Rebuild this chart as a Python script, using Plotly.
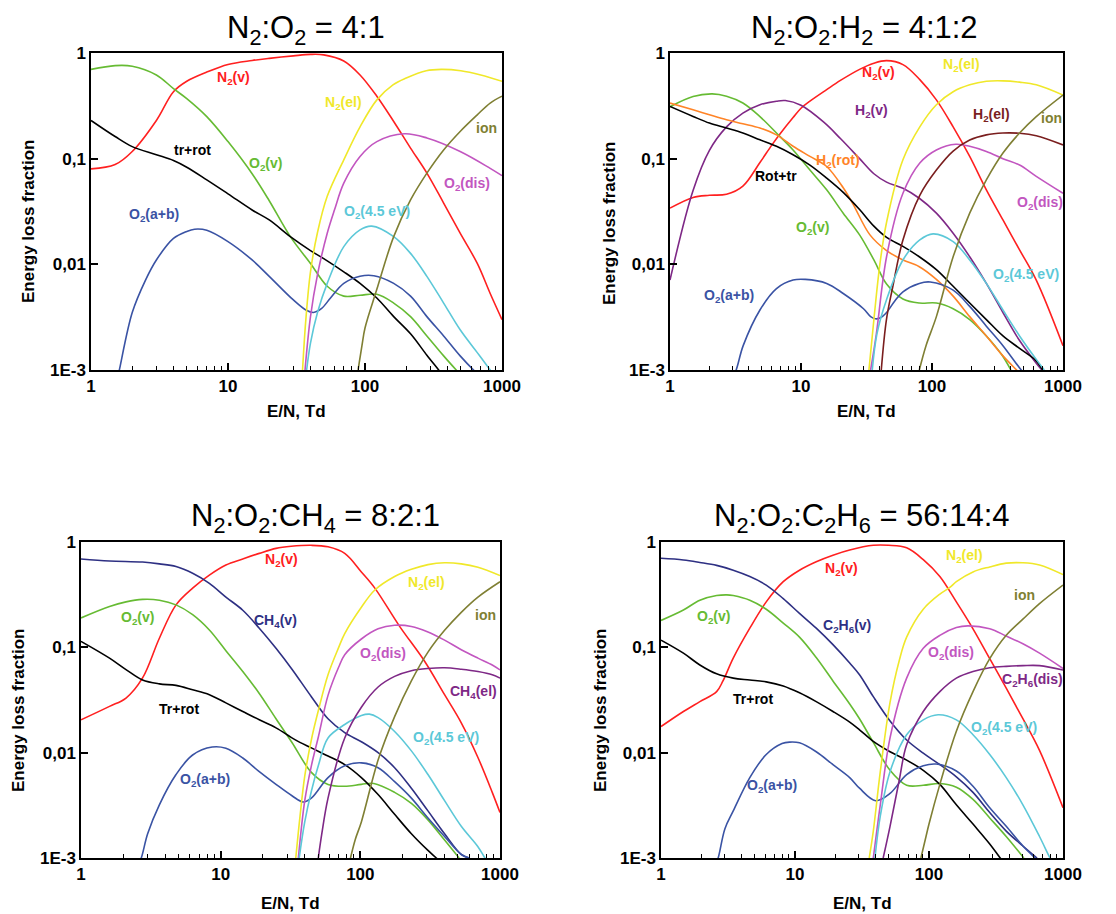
import math
import plotly.graph_objects as go

# ---------------- colours ----------------
RED = '#FF2020'
GREEN = '#66BB33'
BLACK = '#000000'
BLUE = '#3A53A4'
YELLOW = '#F0E82A'
MAGENTA = '#C256C0'
CYAN = '#5CC8D8'
OLIVE = '#7F7F33'
PURPLE = '#7E2886'
ORANGE = '#FF8427'
MAROON = '#7A1E1E'
NAVY = '#2E3083'

# ---------------- axis ticks ----------------
X_TICKS = [1, 10, 100, 1000]
X_TICKTEXT = ['1', '10', '100', '1000']
Y_TICKS = [0.001, 0.01, 0.1, 1]
Y_TICKTEXT = ['1E-3', '0,01', '0,1', '1']

# ================= Panel A : N2:O2 = 4:1 =================
A_N2V_X = [1, 1.5, 2, 3, 4, 5, 7, 10, 15, 20, 30, 40, 50, 70, 92, 122, 162, 215, 283, 375, 495, 660, 820, 1000]
A_N2V_Y = [0.080, 0.088, 0.117, 0.23, 0.43, 0.54, 0.66, 0.78, 0.85, 0.89, 0.94, 0.97, 0.96, 0.84, 0.62, 0.39, 0.225, 0.126, 0.073, 0.038, 0.0197, 0.0102, 0.0053, 0.003]
A_O2V_X = [1, 1.5, 2, 3, 4, 5, 7, 10, 15, 20, 28.5, 40, 53, 70, 92, 122, 162, 215, 283, 375, 480]
A_O2V_Y = [0.70, 0.76, 0.75, 0.62, 0.46, 0.37, 0.25, 0.145, 0.072, 0.04, 0.0183, 0.0102, 0.0062, 0.005, 0.0051, 0.0052, 0.0043, 0.0032, 0.0021, 0.00136, 0.00095]
A_TR_X = [1, 1.5, 2, 3, 4, 5, 7, 10, 15, 20, 28.5, 40, 53, 70, 92, 122, 162, 215, 283, 345, 380]
A_TR_Y = [0.23, 0.162, 0.13, 0.109, 0.096, 0.083, 0.063, 0.0465, 0.0327, 0.0263, 0.0183, 0.0135, 0.0108, 0.0085, 0.0066, 0.0048, 0.0032, 0.0022, 0.00138, 0.001, 0.00085]
A_AB_X = [1.55, 1.61, 2, 2.5, 3, 4, 5, 5.7, 7, 10, 15, 20, 30, 37, 42, 48, 56, 70, 92, 116, 162, 215, 283, 375, 495, 620, 680]
A_AB_Y = [0.0008, 0.001, 0.0035, 0.0071, 0.011, 0.0176, 0.0205, 0.0215, 0.021, 0.0164, 0.011, 0.0077, 0.0046, 0.0037, 0.0035, 0.0038, 0.0048, 0.0066, 0.0077, 0.0078, 0.0066, 0.005, 0.0032, 0.0021, 0.00136, 0.001, 0.0009]
A_N2EL_X = [35, 37, 40, 45, 53, 70, 92, 122, 160, 200, 280, 360, 500, 700, 1000]
A_N2EL_Y = [0.001, 0.003, 0.0085, 0.02, 0.044, 0.0975, 0.2, 0.36, 0.5, 0.58, 0.68, 0.70, 0.68, 0.62, 0.54]
A_DIS_X = [36.5, 40, 45, 53, 60, 70, 92, 122, 194, 283, 495, 820, 1000]
A_DIS_Y = [0.001, 0.0032, 0.008, 0.0197, 0.033, 0.0586, 0.105, 0.145, 0.172, 0.157, 0.117, 0.081, 0.069]
A_45_X = [37.5, 40, 45, 53, 70, 92, 112, 162, 215, 283, 375, 495, 660, 820, 900]
A_45_Y = [0.001, 0.0018, 0.0035, 0.0066, 0.0147, 0.0212, 0.023, 0.0183, 0.0127, 0.0077, 0.0043, 0.0024, 0.00146, 0.001, 0.00085]
A_ION_X = [89, 95, 100, 122, 162, 215, 283, 375, 495, 660, 820, 1000]
A_ION_Y = [0.001, 0.0017, 0.0025, 0.0058, 0.0183, 0.0407, 0.073, 0.121, 0.181, 0.26, 0.336, 0.39]

# ================= Panel B : N2:O2:H2 = 4:1:2 =================
B_N2V_X = [1, 1.5, 2, 2.7, 3.6, 4.86, 6, 7, 8.7, 10, 11.7, 15.7, 20, 28, 36, 45, 60, 80.7, 108, 145, 194, 260, 348, 466, 625, 1000]
B_N2V_Y = [0.034, 0.043, 0.045, 0.046, 0.055, 0.092, 0.135, 0.175, 0.245, 0.30, 0.35, 0.45, 0.55, 0.70, 0.80, 0.846, 0.776, 0.56, 0.36, 0.2, 0.105, 0.0507, 0.0263, 0.0137, 0.0071, 0.0017]
B_O2V_X = [1, 1.5, 2.1, 2.7, 3.6, 4.86, 6.5, 8.7, 11.7, 15.7, 21, 28, 36, 45, 60, 80, 108, 145, 194, 260, 340, 400]
B_O2V_Y = [0.31, 0.388, 0.41, 0.39, 0.336, 0.25, 0.175, 0.121, 0.078, 0.0507, 0.0305, 0.019, 0.011, 0.0065, 0.0047, 0.0043, 0.0043, 0.0038, 0.003, 0.0021, 0.0014, 0.001]
B_TR_X = [1, 1.5, 2, 2.7, 3.6, 4.86, 6.5, 8.7, 11.7, 15.7, 21, 28, 36, 45, 60, 80, 108, 145, 194, 260, 348, 466, 625, 700, 750]
B_TR_Y = [0.312, 0.251, 0.217, 0.195, 0.175, 0.151, 0.131, 0.109, 0.087, 0.0655, 0.048, 0.033, 0.023, 0.018, 0.0148, 0.0118, 0.0089, 0.0062, 0.0043, 0.003, 0.0021, 0.0016, 0.00122, 0.001, 0.0009]
B_ROT_X = [1, 1.5, 2, 2.7, 3.6, 4.86, 6.5, 8.7, 11.7, 15.7, 21, 25, 33.6, 45, 60, 80, 108, 145, 194, 260, 348, 460, 500]
B_ROT_Y = [0.336, 0.29, 0.26, 0.233, 0.214, 0.195, 0.168, 0.131, 0.105, 0.0843, 0.053, 0.037, 0.019, 0.0135, 0.011, 0.0095, 0.0072, 0.005, 0.0032, 0.0021, 0.00136, 0.00095, 0.00085]
B_HV_X = [1, 1.5, 2, 2.7, 3.6, 4.86, 6.5, 7.6, 10, 15, 20, 28, 36, 45, 60, 80, 108, 145, 194, 260, 348, 466, 625, 690]
B_HV_Y = [0.0071, 0.05, 0.12, 0.2, 0.27, 0.324, 0.35, 0.355, 0.32, 0.22, 0.155, 0.1, 0.072, 0.06, 0.0525, 0.0422, 0.0305, 0.0197, 0.0118, 0.0066, 0.0035, 0.0019, 0.00116, 0.001]
B_AB_X = [3, 3.2, 3.62, 4.86, 6.5, 8.7, 10.8, 15.7, 21, 30, 34, 37, 40, 45, 52, 60, 80, 97, 145, 194, 260, 348, 480, 520]
B_AB_Y = [0.00085, 0.001, 0.0017, 0.0037, 0.0059, 0.0071, 0.0072, 0.0066, 0.0053, 0.0038, 0.0032, 0.00305, 0.0031, 0.0035, 0.0045, 0.0055, 0.0066, 0.0068, 0.0057, 0.004, 0.0026, 0.0017, 0.001, 0.0009]
B_N2EL_X = [33, 36, 40, 45, 60, 80.7, 108, 145, 194, 260, 348, 466, 625, 1000]
B_N2EL_Y = [0.001, 0.003, 0.01, 0.025, 0.0975, 0.2, 0.324, 0.43, 0.5, 0.54, 0.545, 0.53, 0.5, 0.40]
B_DIS_X = [34, 37.6, 45, 60, 80.7, 108, 152, 194, 260, 348, 466, 625, 1000]
B_DIS_Y = [0.001, 0.0022, 0.0118, 0.047, 0.091, 0.121, 0.137, 0.131, 0.117, 0.1, 0.087, 0.068, 0.047]
B_HEL_X = [41, 44.9, 50, 60, 80.7, 108, 145, 194, 260, 348, 466, 625, 1000]
B_HEL_Y = [0.001, 0.003, 0.006, 0.017, 0.045, 0.078, 0.118, 0.15, 0.168, 0.175, 0.174, 0.165, 0.135]
B_45_X = [35, 38, 44.9, 60, 80.7, 102, 145, 194, 260, 348, 466, 625, 720]
B_45_Y = [0.001, 0.0022, 0.0046, 0.011, 0.017, 0.0194, 0.0164, 0.011, 0.0066, 0.0037, 0.0021, 0.00126, 0.001]
B_ION_X = [80, 90, 108, 145, 194, 260, 348, 466, 625, 1000]
B_ION_Y = [0.001, 0.0017, 0.0032, 0.0118, 0.0305, 0.063, 0.113, 0.175, 0.25, 0.40]

# ================= Panel C : N2:O2:CH4 = 8:2:1 =================
C_N2V_X = [1, 1.6, 2.1, 2.76, 3.64, 4.79, 6.3, 8.3, 10.9, 14.4, 18.9, 24.9, 32, 44.6, 58.7, 77.3, 101.7, 127, 190, 290, 401, 528, 695, 880, 1000]
C_N2V_Y = [0.0205, 0.0275, 0.033, 0.0512, 0.122, 0.253, 0.365, 0.485, 0.605, 0.69, 0.78, 0.87, 0.91, 0.93, 0.90, 0.78, 0.52, 0.365, 0.16, 0.073, 0.0355, 0.0192, 0.009, 0.0042, 0.0027]
C_CH4V_X = [1, 1.6, 2.76, 3.64, 4.79, 6.3, 8.3, 10.9, 14.4, 18.9, 24.9, 32.4, 44.6, 58.7, 77.3, 101.7, 134, 176, 232, 305, 401, 528, 600]
C_CH4V_Y = [0.69, 0.66, 0.645, 0.62, 0.585, 0.505, 0.405, 0.30, 0.225, 0.152, 0.098, 0.062, 0.034, 0.021, 0.0155, 0.0127, 0.01, 0.0072, 0.0046, 0.0028, 0.0017, 0.00108, 0.001]
C_O2V_X = [1, 1.6, 2.1, 2.76, 3.64, 4.79, 6.3, 8.3, 10.9, 14.4, 18.9, 24.9, 32.4, 44.6, 58.7, 77.3, 101.7, 125, 176, 232, 305, 401, 510]
C_O2V_Y = [0.19, 0.244, 0.27, 0.285, 0.28, 0.253, 0.204, 0.146, 0.093, 0.059, 0.0365, 0.021, 0.0125, 0.0065, 0.005, 0.0048, 0.005, 0.0051, 0.0042, 0.0033, 0.0023, 0.00148, 0.001]
C_TR_X = [1, 1.6, 2.1, 2.76, 3.64, 4.79, 6.3, 8.3, 10.9, 14.4, 18.9, 24.9, 34, 44.6, 58.7, 77.3, 101.7, 134, 176, 232, 305, 350, 380]
C_TR_Y = [0.114, 0.079, 0.0615, 0.049, 0.045, 0.0435, 0.0395, 0.0355, 0.0297, 0.0246, 0.0205, 0.0172, 0.0133, 0.0111, 0.0093, 0.0077, 0.0058, 0.004, 0.0026, 0.0017, 0.00118, 0.001, 0.0009]
C_AB_X = [2.5, 2.7, 3.0, 3.64, 4.79, 6.3, 8.7, 10.9, 14.4, 18.9, 24.9, 32.4, 39, 44.6, 58.7, 77.3, 101.7, 134, 176, 232, 305, 401, 528, 600]
C_AB_Y = [0.0008, 0.001, 0.0017, 0.0032, 0.0062, 0.0095, 0.0113, 0.011, 0.0089, 0.0066, 0.005, 0.0039, 0.0034, 0.0037, 0.0058, 0.0075, 0.008, 0.0072, 0.0053, 0.0037, 0.0024, 0.0016, 0.00108, 0.001]
C_N2EL_X = [34.5, 37, 40, 45, 50, 58.7, 70, 77.3, 101.7, 127, 176, 232, 305, 401, 528, 695, 1000]
C_N2EL_Y = [0.001, 0.0025, 0.006, 0.014, 0.025, 0.055, 0.1, 0.135, 0.24, 0.35, 0.47, 0.55, 0.61, 0.635, 0.62, 0.575, 0.48]
C_DIS_X = [36, 40, 44.6, 50, 58.7, 70, 77.3, 101.7, 134, 176, 232, 305, 401, 528, 695, 880, 1000]
C_DIS_Y = [0.001, 0.0035, 0.0075, 0.014, 0.035, 0.065, 0.085, 0.12, 0.15, 0.162, 0.158, 0.14, 0.117, 0.095, 0.079, 0.068, 0.061]
C_45_X = [36.5, 40, 44.6, 50, 58.7, 77.3, 101.7, 116, 134, 176, 232, 305, 401, 528, 695, 780, 850]
C_45_Y = [0.001, 0.0022, 0.0043, 0.0075, 0.0138, 0.0185, 0.0225, 0.0232, 0.0215, 0.0159, 0.0104, 0.0062, 0.0035, 0.002, 0.00128, 0.001, 0.00085]
C_CH4EL_X = [50, 53, 58.7, 77.3, 101.7, 134, 176, 232, 305, 401, 528, 695, 880, 1000]
C_CH4EL_Y = [0.001, 0.0017, 0.0037, 0.0138, 0.027, 0.042, 0.053, 0.06, 0.063, 0.064, 0.062, 0.059, 0.055, 0.051]
C_ION_X = [85, 92, 101.7, 134, 176, 232, 305, 401, 528, 695, 1000]
C_ION_Y = [0.001, 0.0015, 0.0022, 0.0085, 0.022, 0.048, 0.09, 0.145, 0.215, 0.3, 0.42]

# ================= Panel D : N2:O2:C2H6 = 56:14:4 =================
D_N2V_X = [1, 1.47, 1.95, 2.6, 2.9, 3.46, 4.6, 6.1, 8.17, 10.8, 14.4, 19.2, 25.6, 38.4, 50, 68.1, 90.6, 120.5, 160, 213, 284, 377, 502, 668, 1000]
D_N2V_Y = [0.0177, 0.0246, 0.0305, 0.038, 0.048, 0.079, 0.152, 0.27, 0.42, 0.54, 0.65, 0.75, 0.84, 0.93, 0.93, 0.88, 0.68, 0.47, 0.27, 0.15, 0.078, 0.041, 0.021, 0.0105, 0.003]
D_C2H6V_X = [1, 1.47, 1.95, 2.6, 3.46, 4.6, 6.1, 8.17, 10.8, 14.4, 19.2, 25.6, 30.3, 38.4, 51.2, 68.1, 90.6, 120.5, 160, 213, 284, 377, 502, 640]
D_C2H6V_Y = [0.70, 0.675, 0.64, 0.60, 0.54, 0.47, 0.39, 0.29, 0.21, 0.152, 0.106, 0.071, 0.055, 0.034, 0.02, 0.0132, 0.0099, 0.0077, 0.0059, 0.0042, 0.0027, 0.0018, 0.0013, 0.001]
D_O2V_X = [1, 1.47, 1.95, 2.6, 3.1, 3.46, 4.6, 6.1, 8.17, 10.8, 14.4, 19.2, 25.6, 30.3, 38.4, 51.2, 68.1, 90.6, 120.5, 160, 213, 284, 377, 510]
D_O2V_Y = [0.18, 0.226, 0.28, 0.31, 0.315, 0.31, 0.28, 0.23, 0.17, 0.125, 0.08, 0.048, 0.029, 0.021, 0.0125, 0.0068, 0.0049, 0.0049, 0.0051, 0.0047, 0.0036, 0.0024, 0.0016, 0.001]
D_TR_X = [1, 1.47, 1.95, 2.6, 3.46, 4.6, 6.1, 8.17, 10.8, 14.4, 19.2, 25.6, 30.3, 38.4, 51.2, 68.1, 90.6, 120.5, 160, 213, 284, 340, 370]
D_TR_Y = [0.117, 0.088, 0.068, 0.056, 0.051, 0.049, 0.047, 0.043, 0.037, 0.0305, 0.0246, 0.0195, 0.0165, 0.0128, 0.0102, 0.0085, 0.0068, 0.005, 0.0032, 0.0021, 0.00136, 0.001, 0.00088]
D_AB_X = [2.5, 2.67, 3, 3.46, 4.6, 6.1, 8, 9.1, 10.8, 14.4, 19.2, 25.6, 30.3, 40, 51.2, 68.1, 90.6, 113, 160, 213, 284, 377, 502, 620, 680]
D_AB_Y = [0.0008, 0.001, 0.0019, 0.0028, 0.0058, 0.0096, 0.0122, 0.0126, 0.0124, 0.0102, 0.0077, 0.0058, 0.0046, 0.0035, 0.0041, 0.0062, 0.0075, 0.0078, 0.0067, 0.0048, 0.003, 0.002, 0.0013, 0.001, 0.0009]
D_N2EL_X = [35.8, 38.4, 43.3, 51.2, 60, 68.1, 90.6, 120.5, 143, 160, 213, 284, 377, 502, 668, 1000]
D_N2EL_Y = [0.001, 0.0018, 0.0066, 0.03, 0.075, 0.125, 0.23, 0.32, 0.37, 0.42, 0.52, 0.58, 0.63, 0.635, 0.605, 0.49]
D_DIS_X = [38.4, 43.3, 51.2, 68.1, 90.6, 120.5, 160, 195, 284, 377, 502, 668, 1000]
D_DIS_Y = [0.001, 0.0032, 0.0138, 0.051, 0.098, 0.13, 0.154, 0.16, 0.15, 0.128, 0.108, 0.088, 0.063]
D_45_X = [39.5, 43.3, 51.2, 68.1, 90.6, 117, 160, 213, 284, 377, 502, 668, 800, 860]
D_45_Y = [0.001, 0.0025, 0.0066, 0.0148, 0.0205, 0.0229, 0.0205, 0.0148, 0.0096, 0.0058, 0.0032, 0.0016, 0.001, 0.00085]
D_C2H6DIS_X = [45.5, 51.2, 60, 68.1, 90.6, 120.5, 160, 213, 284, 377, 502, 668, 1000]
D_C2H6DIS_Y = [0.001, 0.002, 0.0055, 0.0119, 0.0246, 0.038, 0.051, 0.059, 0.064, 0.066, 0.067, 0.067, 0.061]
D_ION_X = [87, 95, 100, 120.5, 160, 213, 284, 377, 502, 668, 1000]
D_ION_Y = [0.001, 0.0016, 0.0021, 0.005, 0.016, 0.038, 0.078, 0.13, 0.185, 0.26, 0.39]

# ---------------- curve labels (text, E/N, fraction, colour) ----------------
A_LABELS = [
    ('N<sub>2</sub>(v)', 11, 0.58, RED), ('tr+rot', 5.46, 0.121, BLACK),
    ('O<sub>2</sub>(v)', 18.7, 0.089, GREEN), ('N<sub>2</sub>(el)', 69.9, 0.336, YELLOW),
    ('ion', 777, 0.195, OLIVE), ('O<sub>2</sub>(dis)', 555, 0.057, MAGENTA),
    ('O<sub>2</sub>(4.5 eV)', 122, 0.0316, CYAN), ('O<sub>2</sub>(a+b)', 2.87, 0.029, BLUE),
]
B_LABELS = [
    ('N<sub>2</sub>(v)', 38.8, 0.646, RED), ('N<sub>2</sub>(el)', 168, 0.775, YELLOW),
    ('H<sub>2</sub>(v)', 34.5, 0.28, PURPLE), ('H<sub>2</sub>(el)', 284, 0.26, MAROON),
    ('ion', 815, 0.242, OLIVE), ('H<sub>2</sub>(rot)', 19.2, 0.096, ORANGE),
    ('Rot+tr', 6.5, 0.068, BLACK), ('O<sub>2</sub>(dis)', 664, 0.038, MAGENTA),
    ('O<sub>2</sub>(v)', 12.3, 0.022, GREEN), ('O<sub>2</sub>(4.5 eV)', 526, 0.008, CYAN),
    ('O<sub>2</sub>(a+b)', 2.84, 0.005, BLUE),
]
C_LABELS = [
    ('N<sub>2</sub>(v)', 27.3, 0.67, RED), ('N<sub>2</sub>(el)', 298, 0.41, YELLOW),
    ('ion', 781, 0.205, OLIVE), ('O<sub>2</sub>(v)', 2.53, 0.188, GREEN),
    ('CH<sub>4</sub>(v)', 24.5, 0.178, NAVY), ('O<sub>2</sub>(dis)', 146, 0.086, MAGENTA),
    ('CH<sub>4</sub>(el)', 644, 0.0375, PURPLE), ('Tr+rot', 5.06, 0.0259, BLACK),
    ('O<sub>2</sub>(4.5 eV)', 410, 0.0138, CYAN), ('O<sub>2</sub>(a+b)', 7.73, 0.0055, BLUE),
]
D_LABELS = [
    ('N<sub>2</sub>(v)', 22.3, 0.559, RED), ('N<sub>2</sub>(el)', 185, 0.73, YELLOW),
    ('ion', 518, 0.316, OLIVE), ('O<sub>2</sub>(v)', 2.47, 0.195, GREEN),
    ('C<sub>2</sub>H<sub>6</sub>(v)', 24.3, 0.16, NAVY), ('O<sub>2</sub>(dis)', 145, 0.088, MAGENTA),
    ('C<sub>2</sub>H<sub>6</sub>(dis)', 597, 0.049, PURPLE), ('Tr+rot', 4.85, 0.032, BLACK),
    ('O<sub>2</sub>(4.5 eV)', 363, 0.017, CYAN), ('O<sub>2</sub>(a+b)', 6.79, 0.0048, BLUE),
]

TITLES = ['N<sub>2</sub>:O<sub>2</sub> = 4:1',
          'N<sub>2</sub>:O<sub>2</sub>:H<sub>2</sub> = 4:1:2',
          'N<sub>2</sub>:O<sub>2</sub>:CH<sub>4</sub> = 8:2:1',
          'N<sub>2</sub>:O<sub>2</sub>:C<sub>2</sub>H<sub>6</sub> = 56:14:4']

PANELS = [
    ([(A_N2V_X, A_N2V_Y, RED), (A_O2V_X, A_O2V_Y, GREEN), (A_TR_X, A_TR_Y, BLACK),
      (A_AB_X, A_AB_Y, BLUE), (A_N2EL_X, A_N2EL_Y, YELLOW), (A_DIS_X, A_DIS_Y, MAGENTA),
      (A_45_X, A_45_Y, CYAN), (A_ION_X, A_ION_Y, OLIVE)], A_LABELS),
    ([(B_N2V_X, B_N2V_Y, RED), (B_O2V_X, B_O2V_Y, GREEN), (B_HV_X, B_HV_Y, PURPLE),
      (B_ROT_X, B_ROT_Y, ORANGE), (B_TR_X, B_TR_Y, BLACK), (B_AB_X, B_AB_Y, BLUE),
      (B_N2EL_X, B_N2EL_Y, YELLOW), (B_DIS_X, B_DIS_Y, MAGENTA), (B_HEL_X, B_HEL_Y, MAROON),
      (B_45_X, B_45_Y, CYAN), (B_ION_X, B_ION_Y, OLIVE)], B_LABELS),
    ([(C_N2V_X, C_N2V_Y, RED), (C_CH4V_X, C_CH4V_Y, NAVY), (C_O2V_X, C_O2V_Y, GREEN),
      (C_TR_X, C_TR_Y, BLACK), (C_AB_X, C_AB_Y, BLUE), (C_N2EL_X, C_N2EL_Y, YELLOW),
      (C_DIS_X, C_DIS_Y, MAGENTA), (C_45_X, C_45_Y, CYAN), (C_CH4EL_X, C_CH4EL_Y, PURPLE),
      (C_ION_X, C_ION_Y, OLIVE)], C_LABELS),
    ([(D_N2V_X, D_N2V_Y, RED), (D_C2H6V_X, D_C2H6V_Y, NAVY), (D_O2V_X, D_O2V_Y, GREEN),
      (D_TR_X, D_TR_Y, BLACK), (D_AB_X, D_AB_Y, BLUE), (D_N2EL_X, D_N2EL_Y, YELLOW),
      (D_DIS_X, D_DIS_Y, MAGENTA), (D_45_X, D_45_Y, CYAN), (D_C2H6DIS_X, D_C2H6DIS_Y, PURPLE),
      (D_ION_X, D_ION_Y, OLIVE)], D_LABELS),
]

# ---------------- layout geometry (pixels in a 1116 x 914 page) ----------------
W, H = 1116, 914
BOXES = [(91, 502, 53, 370), (670, 1063, 53, 370), (81, 500, 542, 858), (661, 1063, 542, 858)]
TITLE_POS = [(306, 30), (864, 30), (315, 518), (862, 518)]
YTITLE_POS = [(28, 222), (610, 224), (18, 711), (600, 711)]
XTITLE_POS = [(296, 411), (866, 411), (290, 903), (862, 903)]

FONT = 'Liberation Sans, Arial, sans-serif'
MINOR = [m * d for d in (1, 10, 100) for m in range(2, 10)]

fig = go.Figure()
annotations = []
for i, (series, labels) in enumerate(PANELS):
    n = '' if i == 0 else str(i + 1)
    xa, ya = 'x' + n, 'y' + n
    for xs, ys, col in series:
        fig.add_trace(go.Scatter(x=xs, y=ys, mode='lines', xaxis=xa, yaxis=ya,
                                 line=dict(color=col, width=1.6, shape='spline', smoothing=1.0),
                                 showlegend=False, hoverinfo='skip'))
    for txt, lx, ly, col in labels:
        annotations.append(dict(text='<b>' + txt + '</b>', x=math.log10(lx), y=math.log10(ly),
                                xref=xa, yref=ya, showarrow=False,
                                font=dict(family=FONT, size=14, color=col)))
    x0, x1, y0, y1 = BOXES[i]
    common = dict(showline=True, linecolor='black', linewidth=1.5, mirror=True,
                  ticks='inside', ticklen=7, tickwidth=1.5, tickcolor='black',
                  showgrid=False, zeroline=False, type='log', automargin=False,
                  tickfont=dict(family=FONT, size=17, color='black', weight='bold'),
                  minor=dict(ticks='inside', ticklen=4, tickwidth=1, tickcolor='black',
                             tickvals=MINOR, showgrid=False))
    fig.layout['xaxis' + n] = dict(common, domain=[x0 / W, x1 / W], range=[0, 3], anchor=ya,
                                   tickvals=X_TICKS, ticktext=X_TICKTEXT)
    fig.layout['yaxis' + n] = dict(common, domain=[1 - y1 / H, 1 - y0 / H], range=[-3, 0], anchor=xa,
                                   tickvals=Y_TICKS, ticktext=Y_TICKTEXT)
    tx, ty = TITLE_POS[i]
    annotations.append(dict(text=TITLES[i], x=tx / W, y=1 - ty / H, xref='paper', yref='paper',
                            showarrow=False, xanchor='center', yanchor='middle',
                            font=dict(family=FONT, size=31, color='black')))
    yx, yy = YTITLE_POS[i]
    annotations.append(dict(text='<b>Energy loss fraction</b>', x=yx / W, y=1 - yy / H,
                            xref='paper', yref='paper', showarrow=False, textangle=-90,
                            xanchor='center', yanchor='middle',
                            font=dict(family=FONT, size=17, color='black')))
    xx, xy = XTITLE_POS[i]
    annotations.append(dict(text='<b>E/N, Td</b>', x=xx / W, y=1 - xy / H,
                            xref='paper', yref='paper', showarrow=False,
                            xanchor='center', yanchor='middle',
                            font=dict(family=FONT, size=17, color='black')))

fig.update_layout(width=W, height=H, autosize=False,
                  margin=dict(l=0, r=0, t=0, b=0, pad=0, autoexpand=False),
                  paper_bgcolor='white', plot_bgcolor='white',
                  annotations=annotations, showlegend=False)
fig.write_html('out.html', config=dict(displayModeBar=False, responsive=False),
               post_script="document.body.style.margin='0';document.body.style.overflow='hidden';"
                           "document.documentElement.style.overflow='hidden';")
